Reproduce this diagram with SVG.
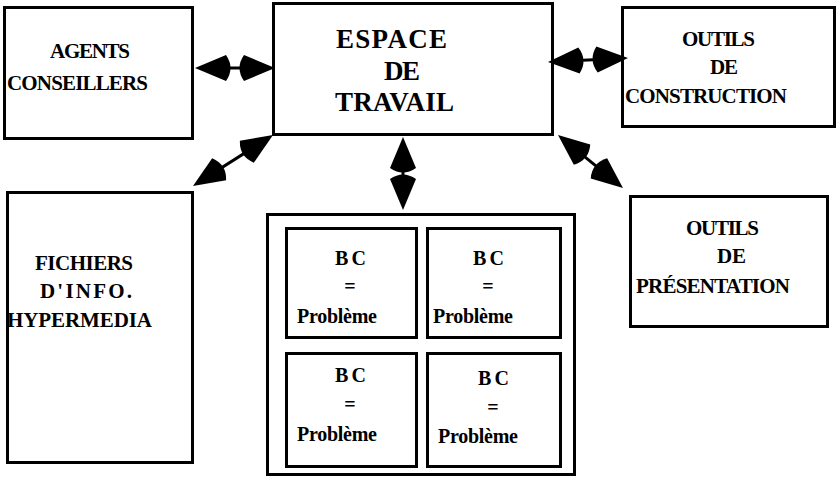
<svg xmlns="http://www.w3.org/2000/svg" width="837" height="477" viewBox="0 0 837 477">
<style>
.box{fill:#fff;stroke:#000;stroke-width:3}
.t{font-family:"Liberation Serif","Times New Roman",serif;font-weight:bold;fill:#000}
.m{font-size:21px}
.b{font-size:27px}
.s{font-size:20px}
.c{fill:none;stroke:#000;stroke-width:3}
</style>
<defs>
<marker id="ah" viewBox="-42 -15 44 30" refX="-5" refY="0" markerWidth="44" markerHeight="30" markerUnits="userSpaceOnUse" orient="auto-start-reverse">
<path d="M0,0 L-31,-13 Q-40,0 -31,13 Z" fill="#000"/>
</marker>
</defs>
<rect width="837" height="477" fill="#fff"/>
<g id="agents">
<rect class="box" x="4.5" y="7.5" width="188" height="131"/>
<text class="t m" x="50" y="58" textLength="80" lengthAdjust="spacing">AGENTS</text>
<text class="t m" x="7" y="90" textLength="141" lengthAdjust="spacing">CONSEILLERS</text>
</g>
<g id="espace">
<rect class="box" x="273.5" y="3.5" width="279" height="131"/>
<text class="t b" x="336" y="48" textLength="111" lengthAdjust="spacing">ESPACE</text>
<text class="t b" x="384" y="80" textLength="36" lengthAdjust="spacing">DE</text>
<text class="t b" x="335" y="111" textLength="119" lengthAdjust="spacing">TRAVAIL</text>
</g>
<g id="construction">
<rect class="box" x="622.5" y="7.5" width="212" height="119"/>
<text class="t m" x="682" y="46" textLength="73" lengthAdjust="spacing">OUTILS</text>
<text class="t m" x="710" y="74" textLength="28" lengthAdjust="spacing">DE</text>
<text class="t m" x="625" y="103" textLength="162" lengthAdjust="spacing">CONSTRUCTION</text>
</g>
<g id="fichiers">
<rect class="box" x="7.5" y="192.5" width="185" height="270"/>
<text class="t m" x="35" y="270" textLength="98" lengthAdjust="spacing">FICHIERS</text>
<text class="t m" x="40" y="298" textLength="92" lengthAdjust="spacing">D'INFO.</text>
<text class="t m" x="7" y="327" textLength="145" lengthAdjust="spacing">HYPERMEDIA</text>
</g>
<g id="presentation">
<rect class="box" x="630.5" y="196.5" width="197" height="130"/>
<text class="t m" x="686" y="235" textLength="73" lengthAdjust="spacing">OUTILS</text>
<text class="t m" x="717" y="263" textLength="29" lengthAdjust="spacing">DE</text>
<text class="t m" x="636" y="293" textLength="154" lengthAdjust="spacing">PRÉSENTATION</text>
</g>
<g id="bc-container">
<rect class="box" x="267.5" y="214.5" width="307" height="260"/>
</g>
<g id="bc1">
<rect class="box" x="286.5" y="228.5" width="130" height="109"/>
<text class="t s" x="335" y="265" textLength="31" lengthAdjust="spacing">BC</text>
<text class="t s" x="350" y="293" text-anchor="middle">=</text>
<text class="t s" x="297" y="323" textLength="80" lengthAdjust="spacing">Problème</text>
</g>
<g id="bc2">
<rect class="box" x="427.5" y="228.5" width="133" height="109"/>
<text class="t s" x="473" y="265" textLength="31" lengthAdjust="spacing">BC</text>
<text class="t s" x="488" y="293" text-anchor="middle">=</text>
<text class="t s" x="433" y="323" textLength="80" lengthAdjust="spacing">Problème</text>
</g>
<g id="bc3">
<rect class="box" x="286.5" y="353.5" width="130" height="113"/>
<text class="t s" x="335" y="382" textLength="31" lengthAdjust="spacing">BC</text>
<text class="t s" x="350" y="411" text-anchor="middle">=</text>
<text class="t s" x="297" y="441" textLength="80" lengthAdjust="spacing">Problème</text>
</g>
<g id="bc4">
<rect class="box" x="427.5" y="353.5" width="133" height="113"/>
<text class="t s" x="478" y="385" textLength="31" lengthAdjust="spacing">BC</text>
<text class="t s" x="493" y="414" text-anchor="middle">=</text>
<text class="t s" x="438" y="443" textLength="80" lengthAdjust="spacing">Problème</text>
</g>
<g id="connectors">
<path class="c" d="M200,68 L270,68" marker-start="url(#ah)" marker-end="url(#ah)"/>
<path class="c" d="M553,61.75 L623,58.25" marker-start="url(#ah)" marker-end="url(#ah)"/>
<path class="c" d="M268.8,137.7 L197.2,183.3" marker-start="url(#ah)" marker-end="url(#ah)"/>
<path class="c" d="M403,142 L403,205" marker-start="url(#ah)" marker-end="url(#ah)"/>
<path class="c" d="M561.9,138.2 L619.1,184.8" marker-start="url(#ah)" marker-end="url(#ah)"/>
</g>
</svg>
